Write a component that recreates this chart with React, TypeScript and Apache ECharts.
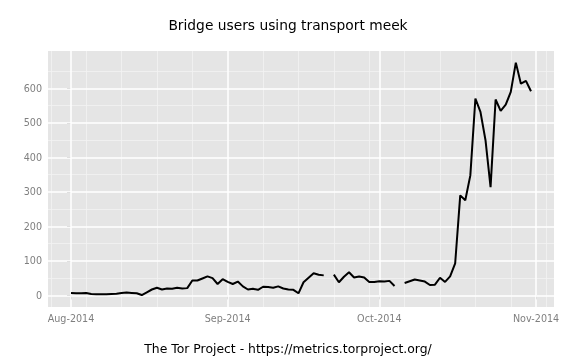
import React, { useEffect, useRef } from "react";
import * as echarts from "echarts";

// Daily meek bridge users, 2014-08-01 .. 2014-10-31 (null = missing day)
const startDate = "2014-08-01";
const users: (number | null)[] = [
  7, 6, 6, 7, 4, 3, 3, 3, 4, 5,
  7, 8, 7, 6, 1, 9, 17, 22, 17, 20,
  19, 22, 20, 21, 43, 43, 49, 55, 50, 33,
  47, 39, 33, 40, 26, 17, 19, 16, 25, 24,
  22, 26, 20, 17, 16, 6, 38, 51, 64, 60,
  58, null, 60, 38, 54, 67, 52, 55, 52, 39,
  39, 41, 40, 42, 27, null, 36, 41, 46, 43,
  40, 30, 31, 51, 39, 55, 93, 290, 276, 348,
  571, 532, 450, 314, 568, 535, 553, 590, 675, 614,
  622, 592,
];

// x ticks: day offsets from startDate
const xTickDays = [0, 31, 61, 92];
const xTickLabels = ["Aug-2014", "Sep-2014", "Oct-2014", "Nov-2014"];
const xMinorDays = [-4, 3, 10, 17, 24, 38, 45, 52, 59, 66, 73, 80, 87, 94];
const yTicks = [0, 100, 200, 300, 400, 500, 600];
const yMinor = [50, 150, 250, 350, 450, 550, 650];

const titleText = "Bridge users using transport meek";
const captionText = "The Tor Project - https://metrics.torproject.org/";

const FONT = "DejaVu Sans";

export default function App() {
  const ref = useRef<HTMLDivElement>(null);
  useEffect(() => {
    if (!ref.current) return;
    const chart = echarts.init(ref.current, null, { renderer: "svg" });
    const data = users.map((v, i) => [i, v === null ? "-" : v]);
    const n = users.length - 1;
    const pad = n * 0.05;
    const maxV = Math.max(...(users.filter((v) => v !== null) as number[]));
    const yPad = maxV * 0.05;

    const minorStyle = { color: "#F2F2F2", width: 0.8, type: "solid" };
    const majorStyle = { color: "#FFFFFF", width: 1.5, type: "solid" };
    const gridLines: any[] = [
      ...xMinorDays.map((d) => ({ xAxis: d, lineStyle: minorStyle })),
      ...yMinor.map((v) => ({ yAxis: v, lineStyle: minorStyle })),
      ...xTickDays.map((d) => ({ xAxis: d, lineStyle: majorStyle })),
      ...yTicks.map((v) => ({ yAxis: v, lineStyle: majorStyle })),
    ];

    chart.setOption({
      animation: false,
      textStyle: { fontFamily: FONT },
      title: [
        {
          text: titleText,
          left: "center",
          top: 13,
          textStyle: { fontFamily: FONT, fontSize: 13.8, fontWeight: "normal", color: "#000" },
        },
        {
          text: captionText,
          left: "center",
          top: 337,
          textStyle: { fontFamily: FONT, fontSize: 12.4, fontWeight: "normal", color: "#000" },
        },
      ],
      grid: {
        left: 48,
        top: 51,
        width: 506,
        height: 256,
        show: true,
        backgroundColor: "#E5E5E5",
        borderWidth: 0,
        containLabel: false,
      },
      xAxis: {
        type: "value",
        min: -pad,
        max: n + pad,
        axisLine: { show: false },
        splitLine: { show: false },
        axisTick: {
          show: true,
          customValues: xTickDays,
          length: 4,
          lineStyle: { color: "#7F7F7F", width: 1 },
        },
        axisLabel: {
          customValues: xTickDays,
          formatter: (v: number) => {
            const idx = xTickDays.indexOf(Math.round(v));
            return idx >= 0 ? xTickLabels[idx] : "";
          },
          color: "#7F7F7F",
          fontSize: 9.6,
          fontFamily: FONT,
          margin: 6,
        },
      },
      yAxis: {
        type: "value",
        min: -yPad,
        max: maxV + yPad,
        axisLine: { show: false },
        splitLine: { show: false },
        axisTick: {
          show: true,
          customValues: yTicks,
          length: 4,
          lineStyle: { color: "#7F7F7F", width: 1 },
        },
        axisLabel: {
          customValues: yTicks,
          color: "#7F7F7F",
          fontSize: 9.6,
          fontFamily: FONT,
          margin: 6,
        },
      },
      series: [
        {
          type: "line",
          name: "grid",
          data: data,
          z: 1,
          silent: true,
          showSymbol: false,
          lineStyle: { opacity: 0 },
          markLine: {
            silent: true,
            symbol: ["none", "none"],
            label: { show: false },
            emphasis: { disabled: true },
            animation: false,
            data: gridLines,
          },
        },
        {
          type: "line",
          name: startDate,
          data: data,
          z: 5,
          showSymbol: false,
          connectNulls: false,
          lineStyle: { color: "#000", width: 2 },
          itemStyle: { color: "#000" },
        },
      ],
    });
    return () => chart.dispose();
  }, []);
  return (
    <div
      ref={ref}
      style={{ position: "fixed", left: 0, top: 0, width: 576, height: 360 }}
    />
  );
}
